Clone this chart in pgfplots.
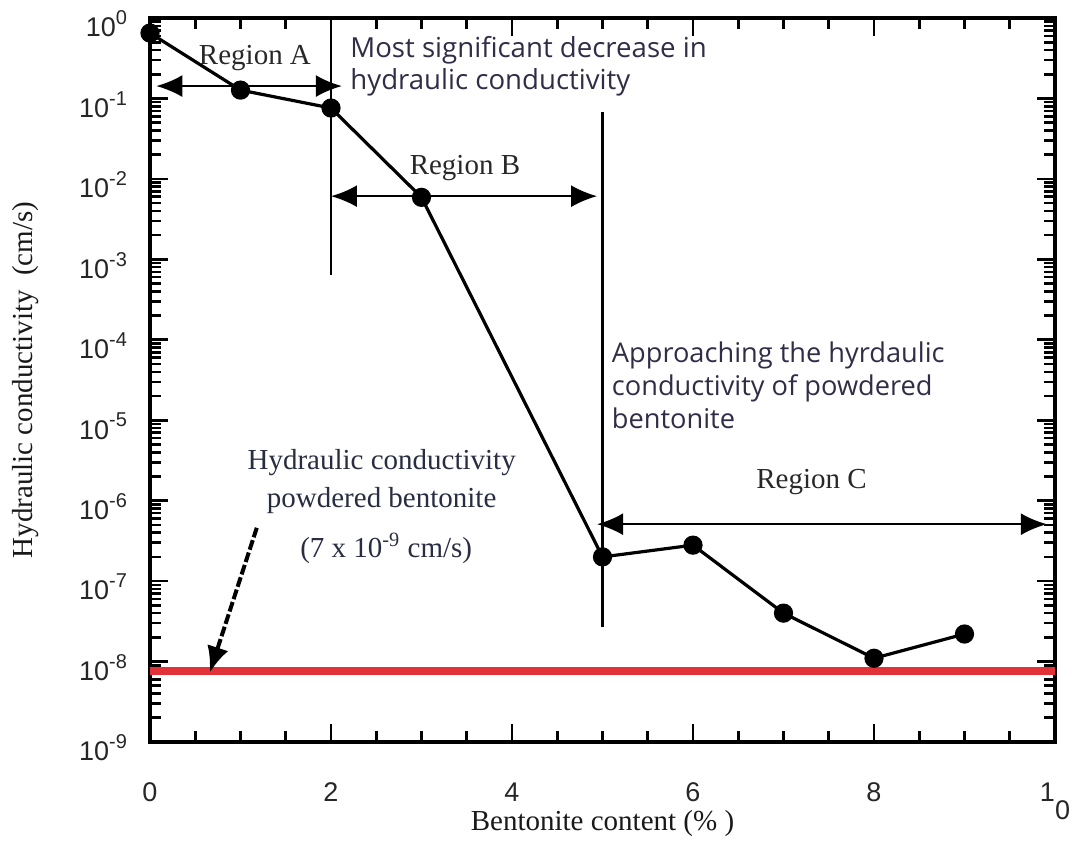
\documentclass[border=0pt]{standalone}
\usepackage{fontspec}
\setmainfont{Liberation Serif}
\setsansfont{Liberation Sans}
\newfontfamily\annfont{Open Sans}
\usepackage{pgfplots}
\pgfplotsset{compat=1.18}
\usetikzlibrary{arrows.meta}
\definecolor{redline}{RGB}{225,50,55}
\definecolor{anncol}{RGB}{50,45,70}
\definecolor{navytxt}{RGB}{40,45,65}
\definecolor{regtxt}{RGB}{40,40,40}
\newcommand{\rfont}{\fontsize{14.5}{17}\selectfont}
\newcommand{\sups}[1]{\raisebox{0.85ex}{\fontsize{10}{10}\selectfont #1}}
\newcommand{\tsup}[1]{\textsuperscript{#1}}
\begin{document}
\begin{tikzpicture}
\useasboundingbox (-75pt,-61pt) rectangle (461pt,371pt);
\begin{axis}[
  at={(0,0)}, anchor=south west,
  scale only axis, width=452.5pt, height=362pt,
  ymode=log, xmin=0, xmax=10, ymin=1e-9, ymax=1,
  clip=false,
  xtick={0,2,4,6,8,10},
  xticklabels={0,2,4,6,8,{1\raisebox{-9pt}{0}}},
  minor x tick num=3,
  ytick={1e-9,1e-8,1e-7,1e-6,1e-5,1e-4,1e-3,1e-2,1e-1,1},
  yticklabels={10\sups{-9},10\sups{-8},10\sups{-7},10\sups{-6},10\sups{-5},10\sups{-4},10\sups{-3},10\sups{-2},10\sups{-1},10\sups{0}},
  tick align=inside,
  tickwidth=9pt, subtickwidth=5.5pt,
  axis line style={line width=2pt},
  tick style={black, line width=1.3pt},
  minor tick style={black, line width=1.3pt},
  ticklabel style={font=\sffamily\fontsize{13.5}{15}\selectfont, text=black!85},
  xticklabel style={yshift=-17pt},
  yticklabel style={xshift=-8pt, yshift=-3pt},
  xlabel={Bentonite content (\% )},
  ylabel={Hydraulic conductivity\ \ (cm/s)},
  xlabel style={at={(rel axis cs:0.5,-0.112)}, anchor=center, font=\rfont, text=black!90},
  ylabel style={at={(rel axis cs:-0.138,0.5)}, anchor=center, font=\rfont, text=black!90},
]
\addplot[black, line width=1.6pt, mark=*, mark size=4pt, mark options={solid}]
  coordinates {(0,0.65) (1,0.127) (2,0.076) (3,0.0059) (5,2.0e-7) (6,2.8e-7) (7,4e-8) (8,1.1e-8) (9,2.2e-8)};
\addplot[redline, line width=4pt] coordinates {(0,7.7e-9) (10,7.7e-9)};

% vertical separators
\draw[line width=1.1pt] (axis cs:2,1) -- (axis cs:2,6.3e-4);
\draw[line width=1.1pt] (axis cs:5,0.068) -- (axis cs:5,2.7e-8);
% region arrows
\draw[line width=1.1pt, {Latex[length=13pt,width=11pt]}-{Latex[length=13pt,width=11pt]}] (axis cs:0.07,0.1426) -- (axis cs:2.12,0.1426);
\draw[line width=1.1pt, {Latex[length=13pt,width=11pt]}-{Latex[length=13pt,width=11pt]}] (axis cs:2.0,6.1e-3) -- (axis cs:4.94,6.1e-3);
\draw[line width=1.1pt, {Latex[length=13pt,width=11pt]}-{Latex[length=13pt,width=11pt]}] (axis cs:4.94,5.1e-7) -- (axis cs:9.91,5.1e-7);
% powdered bentonite arrow
\draw[line width=2pt, dash pattern=on 5pt off 1.5pt, -{Latex[length=13pt,width=11pt]}] (axis cs:1.18,4.6e-7) -- (axis cs:0.66,7.3e-9);

\node[font=\rfont, text=regtxt] at (axis cs:1.16,0.318) {Region A};
\node[font=\rfont, text=regtxt] at (axis cs:3.48,0.01365) {Region B};
\node[font=\rfont, text=regtxt] at (axis cs:7.31,1.7e-6) {Region C};
\node[anchor=west, align=left, inner sep=0pt, font=\annfont\fontsize{13.8}{16}\selectfont, text=anncol] at (axis cs:2.21,0.253) {Most significant decrease in\\hydraulic conductivity};
\node[anchor=west, align=left, inner sep=0pt, font=\annfont\fontsize{13.6}{16.5}\selectfont, text=anncol] at (axis cs:5.10,2.74e-5) {Approaching the hyrdaulic\\conductivity of powdered\\bentonite};
\node[font=\rfont, text=navytxt] at (axis cs:2.56,3.0e-6) {Hydraulic conductivity};
\node[font=\rfont, text=navytxt] at (axis cs:2.56,1.01e-6) {powdered bentonite};
\node[font=\rfont, text=navytxt] at (axis cs:2.61,2.57e-7) {(7 x 10\tsup{-9} cm/s)};
\end{axis}
\end{tikzpicture}
\end{document}
